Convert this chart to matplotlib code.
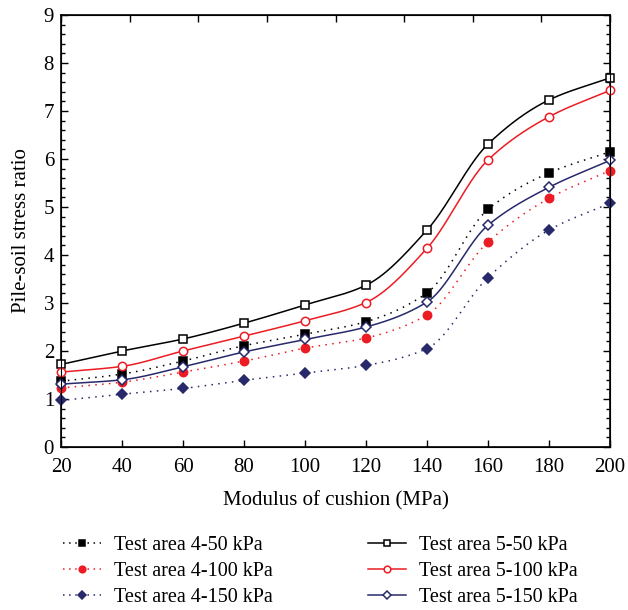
import numpy as np
import matplotlib
matplotlib.use("Agg")
import matplotlib.pyplot as plt
from matplotlib.lines import Line2D
from matplotlib.ticker import MultipleLocator

plt.rcParams['font.family'] = ['Liberation Serif', 'DejaVu Serif']

modulus = [20, 40, 60, 80, 100, 120, 140, 160, 180, 200]
area4_50 = [1.37, 1.52, 1.79, 2.11, 2.35, 2.61, 3.21, 4.95, 5.71, 6.15]
area4_100 = [1.23, 1.35, 1.56, 1.79, 2.06, 2.27, 2.75, 4.27, 5.18, 5.76]
area4_150 = [0.97, 1.10, 1.22, 1.39, 1.54, 1.70, 2.05, 3.53, 4.52, 5.08]
area5_50 = [1.72, 2.00, 2.25, 2.58, 2.96, 3.37, 4.52, 6.31, 7.23, 7.69]
area5_100 = [1.56, 1.68, 2.00, 2.31, 2.63, 3.01, 4.14, 5.98, 6.88, 7.43]
area5_150 = [1.31, 1.40, 1.67, 1.98, 2.24, 2.50, 3.02, 4.62, 5.41, 5.97]

labels = ["Test area 4-50 kPa", "Test area 4-100 kPa", "Test area 4-150 kPa",
          "Test area 5-50 kPa", "Test area 5-100 kPa", "Test area 5-150 kPa"]

RED = '#ec1c24'
NAVY = '#27296b'


def pchip(x, y, xn):
    x = np.asarray(x, float); y = np.asarray(y, float)
    h = np.diff(x); d = np.diff(y) / h
    n = len(x); m = np.zeros(n)
    for k in range(1, n - 1):
        if d[k - 1] * d[k] > 0:
            w1 = 2 * h[k] + h[k - 1]; w2 = h[k] + 2 * h[k - 1]
            m[k] = (w1 + w2) / (w1 / d[k - 1] + w2 / d[k])
    m[0] = d[0]; m[-1] = d[-1]
    idx = np.clip(np.searchsorted(x, xn) - 1, 0, n - 2)
    t = (xn - x[idx]) / h[idx]
    h00 = 2 * t**3 - 3 * t**2 + 1; h10 = t**3 - 2 * t**2 + t
    h01 = -2 * t**3 + 3 * t**2; h11 = t**3 - t**2
    return h00 * y[idx] + h10 * h[idx] * m[idx] + h01 * y[idx + 1] + h11 * h[idx] * m[idx + 1]


fig = plt.figure(figsize=(6.28, 6.10), dpi=100)
ax = fig.add_axes([61 / 628, 163 / 610, 549 / 628, 432 / 610])

xs = np.linspace(20, 200, 400)
dot = (0, (1, 3.5))
series = [
    (area4_50, 'black', 's', 'black', dot),
    (area4_100, RED, 'o', RED, dot),
    (area4_150, NAVY, 'D', NAVY, dot),
    (area5_50, 'black', 's', 'white', '-'),
    (area5_100, RED, 'o', 'white', '-'),
    (area5_150, NAVY, 'D', 'white', '-'),
]
handles = []
for (vals, col, mk, fc, ls), lab in zip(series, labels):
    ax.plot(xs, pchip(modulus, vals, xs), color=col, lw=1.1, ls=ls, zorder=2)
    ms = 6 if mk != 'D' else 5.5
    ax.plot(modulus, vals, ls='none', marker=mk, ms=ms, mfc=fc, mec=col, mew=1.1, zorder=3,
            clip_on=False)
    hls = (0, (1, 3)) if ls != '-' else '-'
    handles.append(Line2D([0], [0], color=col, lw=1.1, ls=hls, marker=mk, ms=ms - 1.2,
                          mfc=fc, mec=col, mew=1.1))

ax.set_xlim(20, 200)
ax.set_ylim(0, 9)
ax.set_xticks(modulus)
ax.set_yticks(range(0, 10))
ax.yaxis.set_minor_locator(MultipleLocator(0.2))
ax.tick_params(which='both', direction='in', labelsize=15, top=False, right=True)
ax.tick_params(which='major', length=5, width=1)
ax.tick_params(which='minor', length=3, width=1)
ax.tick_params(axis='x', pad=8)
ax.tick_params(axis='y', pad=5)
for s in ax.spines.values():
    s.set_linewidth(1.2)

top = ax.twiny()
top.set_xlim(20, 200)
top.set_xticks(np.linspace(20, 200, 9))
top.tick_params(direction='in', length=5, width=1, labeltop=False)

ax.set_xlabel("Modulus of cushion (MPa)", fontsize=15, labelpad=10)
ax.set_ylabel("Pile-soil stress ratio", fontsize=15, labelpad=9)

fig.legend(handles, labels, loc='upper left', bbox_to_anchor=(55 / 628, 1 - 528 / 610),
           ncol=2, frameon=False, fontsize=14.5, handlelength=1.9, handletextpad=0.65,
           columnspacing=4.7, labelspacing=0.34, borderaxespad=0)

fig.savefig("out.png", dpi=100)
